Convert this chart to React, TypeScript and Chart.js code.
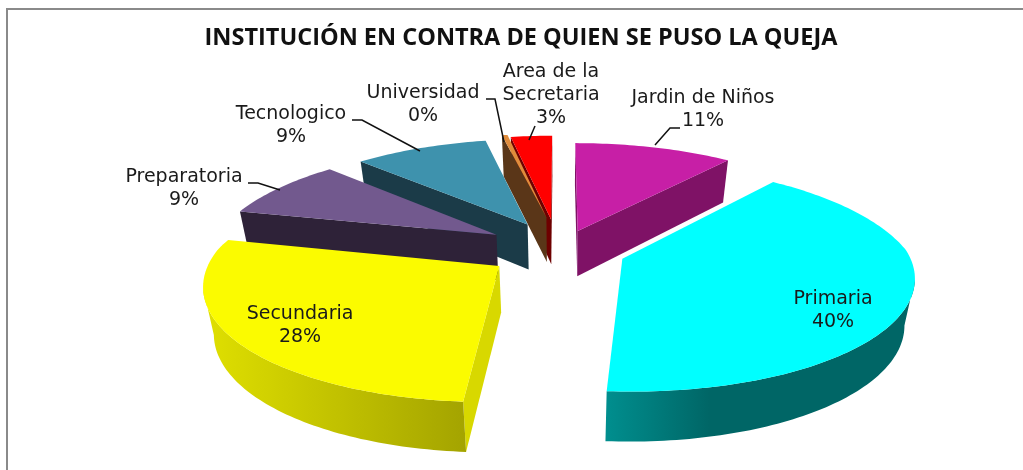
import { useEffect, useRef } from "react";
import { Chart, registerables } from "chart.js";

Chart.register(...registerables);

const categories = ["Jardin de Niños", "Primaria", "Secundaria", "Preparatoria", "Tecnologico", "Universidad", "Area de la Secretaria"];
const shares = [10.9, 40.29, 27.5, 8.7, 9.3, 0.4, 2.91];

const topColors = ["#C71FA6", "#00FFFF", "#FBFB00", "#72598E", "#3E92AD", "#E08C3C", "#FF0000"];
const radialWallColors = ["#7F1266", "#006666", "#D8D800", "#2E2238", "#1B3B48", "#5A3618", "#6E0000"];
const outerWallStops: string[][] = [
  ["#7F1266", "#7F1266"], ["#008E8E", "#006666", "#006666", "#006666"], ["#E0E000", "#9C9C00"],
  ["#2E2238", "#2E2238"], ["#1B3B48", "#1B3B48"], ["#5A3618", "#5A3618"], ["#6E0000", "#6E0000"],
];
const explode = [45, 60, 76, 72, 75, 85, 80];
const nudges = [[1, 0], [4, 3], [0, 1], [-4, 1], [0, 2], [0, 1], [-4, 2]];
const paintOrder = [6, 5, 4, 3, 0, 1, 2];

const labelLines: string[][] = [["Jardin de Niños"], ["Primaria"], ["Secundaria"], ["Preparatoria"], ["Tecnologico"], ["Universidad"], ["Area de la", "Secretaria"]];
const labelPlaces = [[703, 98], [833, 299], [300, 314], [184, 177], [291, 114], [423, 93], [551, 72]];
const leaders: number[][][] = [
  [[680, 128], [670, 128], [655, 145]], [], [],
  [[248, 183], [258, 183], [280, 190]],
  [[352, 120], [362, 120], [420, 151]],
  [[486, 99], [495, 99], [504, 142]],
  [[535, 126], [529, 140]],
];

const VIEW = { cx: 562, cy: 247, k: 0.39, pFront: 0.0005, pBack: 0.0007, depth: 46, shrink: 0.03 };
const RADIUS = 285;
const FONT = '19px "DejaVu Sans"';

type P = { x: number; y: number };
function project(X: number, Y: number, t: number): P {
  const w = 1 / (1 - (Y > 0 ? VIEW.pFront : VIEW.pBack) * Y);
  return {
    x: VIEW.cx + X * w * (1 - VIEW.shrink * t),
    y: VIEW.cy + VIEW.k * Y * w + t * VIEW.depth * Math.sqrt(w),
  };
}

function poly(ctx: CanvasRenderingContext2D, pts: P[], fill: any) {
  ctx.beginPath();
  pts.forEach((q, m) => (m ? ctx.lineTo(q.x, q.y) : ctx.moveTo(q.x, q.y)));
  ctx.closePath();
  ctx.fillStyle = fill;
  ctx.fill();
}

function drawSlice(ctx: CanvasRenderingContext2D, arc: any, i: number) {
  const { startAngle, endAngle, outerRadius } = arc;
  const mid = (startAngle + endAngle) / 2;
  const ox = Math.cos(mid) * arc.options.offset;
  const oy = Math.sin(mid) * arc.options.offset;
  const steps = Math.max(2, Math.ceil((endAngle - startAngle) / 0.02));
  const world: [number, number][] = [[ox, oy]];
  for (let s = 0; s <= steps; s++) {
    const a = startAngle + ((endAngle - startAngle) * s) / steps;
    world.push([ox + Math.cos(a) * outerRadius, oy + Math.sin(a) * outerRadius]);
  }
  const [nx, ny] = nudges[i];
  const shift = (q: P) => ({ x: q.x + nx, y: q.y + ny });
  const top = world.map(([X, Y]) => shift(project(X, Y, 0)));
  const bottom = world.map(([X, Y]) => shift(project(X, Y, 1)));
  const xs = top.map((q) => q.x);
  const grad = ctx.createLinearGradient(Math.min(...xs), 0, Math.max(...xs), 0);
  const stops = outerWallStops[i];
  stops.forEach((c, n) => grad.addColorStop(n / (stops.length - 1), c));
  const n = top.length;
  // the two straight cut faces
  if (top[1].x < top[0].x) poly(ctx, [top[0], top[1], bottom[1], bottom[0]], radialWallColors[i]);
  if (top[0].x < top[n - 1].x) poly(ctx, [top[n - 1], top[0], bottom[0], bottom[n - 1]], radialWallColors[i]);
  // the visible run of the curved rim, as one piece
  let from = -1;
  const flush = (to: number) => {
    if (from >= 0 && to > from) {
      const upper = top.slice(from, to + 1);
      const lower = bottom.slice(from, to + 1).reverse();
      poly(ctx, [...upper, ...lower], grad);
    }
    from = -1;
  };
  for (let e = 1; e < n - 1; e++) {
    if (top[e + 1].x < top[e].x) {
      if (from < 0) from = e;
    } else flush(e);
  }
  flush(n - 1);
  poly(ctx, top, arc.options.backgroundColor);
}

const prism = {
  id: "prism",
  beforeDatasetDraw(chart: any) {
    const ctx = chart.ctx;
    const arcs = chart.getDatasetMeta(0).data;
    paintOrder.forEach((i) => drawSlice(ctx, arcs[i], i));
    return false;
  },
};

const frameAndLabels = {
  id: "frameAndLabels",
  beforeDraw(chart: any) {
    const ctx = chart.ctx;
    ctx.save();
    ctx.strokeStyle = "#8A8A8A";
    ctx.lineWidth = 2;
    ctx.beginPath();
    ctx.moveTo(7, chart.height);
    ctx.lineTo(7, 9);
    ctx.lineTo(chart.width, 9);
    ctx.stroke();
    ctx.restore();
  },
  afterDraw(chart: any) {
    const ctx = chart.ctx;
    ctx.save();
    ctx.font = FONT;
    ctx.fillStyle = "#1A1A1A";
    ctx.textAlign = "center";
    ctx.textBaseline = "middle";
    categories.forEach((_, i) => {
      const [x, y] = labelPlaces[i];
      const lines = [...labelLines[i], `${Math.round(shares[i])}%`];
      lines.forEach((t, n) => ctx.fillText(t, x, y + n * 23));
      const path = leaders[i];
      if (path.length) {
        ctx.beginPath();
        path.forEach(([a, b], m) => (m ? ctx.lineTo(a, b) : ctx.moveTo(a, b)));
        ctx.strokeStyle = "#111";
        ctx.lineWidth = 1.5;
        ctx.stroke();
      }
    });
    ctx.restore();
  },
};

export default function App() {
  const ref = useRef<HTMLCanvasElement>(null);
  useEffect(() => {
    document.body.style.margin = "0";
    document.body.style.background = "#fff";
    const chart = new Chart(ref.current!, {
      type: "pie",
      data: {
        labels: categories,
        datasets: [{ data: shares, backgroundColor: topColors, offset: explode, radius: RADIUS, borderWidth: 0 } as any],
      },
      plugins: [prism, frameAndLabels],
      options: {
        responsive: false,
        animation: false,
        layout: { padding: { left: 19 } },
        plugins: {
          legend: { display: false },
          tooltip: { enabled: false },
          title: {
            display: true,
            text: "INSTITUCIÓN EN CONTRA DE QUIEN SE PUSO LA QUEJA",
            color: "#111",
            font: { family: "Open Sans", size: 23.5, weight: "bold" },
            padding: { top: 24, bottom: 10 },
          },
        },
      },
    } as any);
    return () => chart.destroy();
  }, []);
  return <canvas ref={ref} width={1023} height={470} style={{ display: "block" }} />;
}
